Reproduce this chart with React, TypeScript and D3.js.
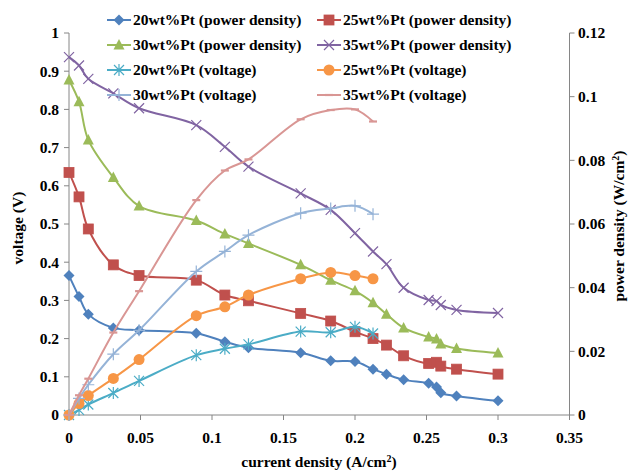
import React from "react";
import * as d3 from "d3";

// current density (A/cm2) shared by all series
const xAll = [0, 0.007, 0.0135, 0.031, 0.049, 0.089, 0.109, 0.1255, 0.162, 0.183, 0.2, 0.2126, 0.222, 0.234, 0.2515, 0.257, 0.26, 0.271, 0.3];
const xShort = [0, 0.007, 0.0135, 0.031, 0.049, 0.089, 0.109, 0.1255, 0.162, 0.183, 0.2, 0.2126];

// left axis series (voltage, V)
const pd20 = [0.365, 0.31, 0.264, 0.228, 0.222, 0.214, 0.192, 0.176, 0.163, 0.142, 0.14, 0.12, 0.107, 0.092, 0.083, 0.073, 0.058, 0.05, 0.037];
const pd25 = [0.635, 0.571, 0.487, 0.393, 0.365, 0.353, 0.314, 0.299, 0.266, 0.246, 0.218, 0.2, 0.183, 0.155, 0.135, 0.138, 0.128, 0.12, 0.107];
const pd30 = [0.877, 0.82, 0.72, 0.622, 0.547, 0.509, 0.474, 0.449, 0.393, 0.353, 0.325, 0.294, 0.264, 0.228, 0.204, 0.199, 0.186, 0.174, 0.162];
const pd35 = [0.937, 0.915, 0.88, 0.842, 0.803, 0.759, 0.702, 0.65, 0.58, 0.537, 0.476, 0.428, 0.395, 0.333, 0.301, 0.298, 0.288, 0.275, 0.267];

// right axis series (power density, W/cm2)
const v20 = [0, 0.0016, 0.0033, 0.0069, 0.0107, 0.0188, 0.0208, 0.0222, 0.0262, 0.026, 0.0277, 0.0256];
const v25 = [0, 0.0036, 0.0061, 0.0115, 0.0174, 0.0312, 0.034, 0.0377, 0.0428, 0.0448, 0.0438, 0.0428];
const v30 = [0, 0.0052, 0.0095, 0.0191, 0.0266, 0.0451, 0.0514, 0.0565, 0.0634, 0.0649, 0.0657, 0.0631];
const v35 = [0, 0.0062, 0.0114, 0.0259, 0.0389, 0.0675, 0.0768, 0.0803, 0.0929, 0.0958, 0.096, 0.0922];

const xTicks = [0, 0.05, 0.1, 0.15, 0.2, 0.25, 0.3, 0.35];
const yLeftTicks = [0, 0.1, 0.2, 0.3, 0.4, 0.5, 0.6, 0.7, 0.8, 0.9, 1];
const yRightTicks = [0, 0.02, 0.04, 0.06, 0.08, 0.1, 0.12];

const labels = [
  "20wt%Pt (power density)", "25wt%Pt (power density)",
  "30wt%Pt (power density)", "35wt%Pt (power density)",
  "20wt%Pt (voltage)", "25wt%Pt (voltage)",
  "30wt%Pt (voltage)", "35wt%Pt (voltage)",
];
const colors = ["#4F81BD", "#C0504D", "#9BBB59", "#8064A2", "#4BACC6", "#F79646", "#95B3D7", "#D99694"];
const markers = ["diamond", "square", "triangle", "x", "star", "circle", "plus", "dash"];

const FONT = "'Liberation Serif', 'Times New Roman', 'DejaVu Serif', serif";
const txt: React.CSSProperties = { fontFamily: FONT, fontWeight: 700, fontSize: "15.5px" };

function Marker({ type, cx, cy, color }: { type: string; cx: number; cy: number; color: string }) {
  switch (type) {
    case "diamond":
      return <path d={`M${cx},${cy - 5.5}L${cx + 5.5},${cy}L${cx},${cy + 5.5}L${cx - 5.5},${cy}Z`} fill={color} />;
    case "square":
      return <rect x={cx - 5} y={cy - 5} width={10} height={10} fill={color} stroke={color} strokeWidth={0.8} />;
    case "triangle":
      return <path d={`M${cx},${cy - 6}L${cx + 5.5},${cy + 4.5}L${cx - 5.5},${cy + 4.5}Z`} fill={color} />;
    case "x":
      return <path d={`M${cx - 5},${cy - 5}L${cx + 5},${cy + 5}M${cx - 5},${cy + 5}L${cx + 5},${cy - 5}`} stroke={color} strokeWidth={1.2} fill="none" />;
    case "star":
      return <path d={`M${cx - 5},${cy - 5}L${cx + 5},${cy + 5}M${cx - 5},${cy + 5}L${cx + 5},${cy - 5}M${cx},${cy - 6}L${cx},${cy + 6}`} stroke={color} strokeWidth={1.2} fill="none" />;
    case "circle":
      return <circle cx={cx} cy={cy} r={5.5} fill={color} />;
    case "plus":
      return <path d={`M${cx - 6},${cy}L${cx + 6},${cy}M${cx},${cy - 6}L${cx},${cy + 6}`} stroke={color} strokeWidth={1.2} fill="none" />;
    case "dash":
      return <path d={`M${cx - 4},${cy}L${cx + 4},${cy}`} stroke={color} strokeWidth={2.2} fill="none" />;
    default:
      return null;
  }
}

export default function App() {
  const W = 633, H = 473;
  const x = d3.scaleLinear().domain([0, 0.35]).range([69, 569.5]);
  const yL = d3.scaleLinear().domain([0, 1]).range([415, 33]);
  const yR = d3.scaleLinear().domain([0, 0.12]).range([415, 33]);
  const axisColor = "#868686";

  const series = [
    { xs: xAll, ys: pd20, y: yL },
    { xs: xAll, ys: pd25, y: yL },
    { xs: xAll, ys: pd30, y: yL },
    { xs: xAll, ys: pd35, y: yL },
    { xs: xShort, ys: v20, y: yR },
    { xs: xShort, ys: v25, y: yR },
    { xs: xShort, ys: v30, y: yR },
    { xs: xShort, ys: v35, y: yR },
  ];

  const legendRows = [20, 45, 70, 95];
  const legendCols = [107, 317];

  return (
    <svg width={W} height={H} style={{ position: "absolute", left: 0, top: 0, background: "#fff" }}>
      <rect width={W} height={H} fill="#fff" />
      {/* axes */}
      <line x1={69} x2={69} y1={33} y2={415} stroke={axisColor} strokeWidth={1} />
      <line x1={569.5} x2={569.5} y1={33} y2={415} stroke={axisColor} strokeWidth={1} />
      <line x1={69} x2={569.5} y1={415} y2={415} stroke={axisColor} strokeWidth={1} />
      {yLeftTicks.map((t) => (
        <g key={"l" + t}>
          <line x1={64} x2={69} y1={yL(t)} y2={yL(t)} stroke={axisColor} />
          <text x={59} y={yL(t)} dy="0.35em" textAnchor="end" style={txt} fill="#000">{t}</text>
        </g>
      ))}
      {yRightTicks.map((t) => (
        <g key={"r" + t}>
          <line x1={569.5} x2={574.5} y1={yR(t)} y2={yR(t)} stroke={axisColor} />
          <text x={578} y={yR(t)} dy="0.35em" textAnchor="start" style={txt} fill="#000">{t}</text>
        </g>
      ))}
      {xTicks.map((t) => (
        <g key={"x" + t}>
          <line x1={x(t)} x2={x(t)} y1={415} y2={420} stroke={axisColor} />
          <text x={x(t)} y={443} textAnchor="middle" style={txt} fill="#000">{t}</text>
        </g>
      ))}
      {/* axis titles */}
      <text x={319} y={467} textAnchor="middle" style={txt} fill="#000">
        current density (A/cm<tspan fontSize={10} dy={-5}>2</tspan><tspan dy={5}>)</tspan>
      </text>
      <text transform={`translate(23,228) rotate(-90)`} textAnchor="middle" style={txt} fill="#000">voltage (V)</text>
      <text transform={`translate(624,226) rotate(-90)`} textAnchor="middle" style={txt} fill="#000">
        power density (W/cm<tspan fontSize={10} dy={-5}>2</tspan><tspan dy={5}>)</tspan>
      </text>
      {/* series */}
      {series.map((s, i) => {
        const pts: [number, number][] = s.xs.map((v, j) => [x(v), s.y(s.ys[j])]);
        const line = d3.line().curve(d3.curveCatmullRom.alpha(0.5));
        return (
          <g key={"s" + i}>
            <path d={line(pts) || ""} fill="none" stroke={colors[i]} strokeWidth={2} />
            {pts.map((p, j) => (
              <Marker key={j} type={markers[i]} cx={p[0]} cy={p[1]} color={colors[i]} />
            ))}
          </g>
        );
      })}
      {/* legend */}
      {labels.map((lab, i) => {
        const lx = legendCols[i % 2];
        const ly = legendRows[Math.floor(i / 2)];
        return (
          <g key={"lg" + i}>
            <line x1={lx} x2={lx + 24} y1={ly} y2={ly} stroke={colors[i]} strokeWidth={2} />
            <Marker type={markers[i]} cx={lx + 12} cy={ly} color={colors[i]} />
            <text x={lx + 26} y={ly} dy="0.35em" style={txt} fill="#000">{lab}</text>
          </g>
        );
      })}
    </svg>
  );
}
